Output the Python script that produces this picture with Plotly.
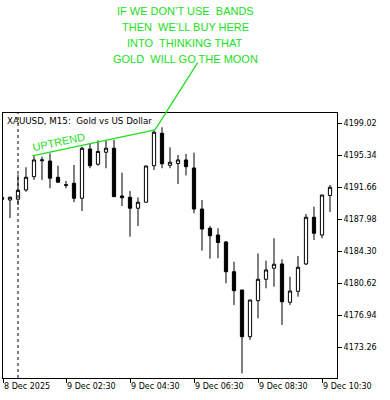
import plotly.graph_objects as go

# ---- data ----
bar_index = list(range(42))
opens = [4190.49, 4190.20, 4190.29, 4191.35, 4192.88, 4194.71, 4194.68, 4192.81, 4191.95, 4192.12,
         4190.40, 4196.06, 4194.31, 4195.69, 4196.15, 4190.66, 4190.51, 4189.25, 4189.94, 4194.14,
         4197.87, 4194.19, 4194.40, 4194.80, 4193.88, 4189.16, 4186.95, 4186.17, 4185.37, 4181.95,
         4179.85, 4174.48, 4178.62, 4181.08, 4182.35, 4182.84, 4178.44, 4179.70, 4182.84, 4188.21,
         4186.17, 4190.72]
highs = [4190.54, 4190.60, 4193.13, 4193.96, 4195.29, 4195.18, 4195.57, 4194.14, 4192.38, 4194.22,
         4196.33, 4196.72, 4197.04, 4197.10, 4197.10, 4193.34, 4191.23, 4190.51, 4194.11, 4198.25,
         4198.56, 4196.26, 4195.37, 4195.49, 4195.64, 4190.20, 4187.21, 4186.95, 4185.48, 4183.10,
         4179.85, 4178.70, 4184.05, 4183.22, 4185.80, 4183.38, 4181.38, 4183.76, 4188.59, 4189.43,
         4190.77, 4191.92]
lows = [4190.20, 4188.13, 4189.62, 4191.15, 4192.50, 4192.50, 4191.55, 4192.21, 4191.55, 4189.94,
        4188.93, 4193.85, 4194.14, 4193.85, 4190.58, 4189.51, 4185.98, 4187.21, 4189.94, 4193.65,
        4193.85, 4193.85, 4192.04, 4193.02, 4188.67, 4184.37, 4183.45, 4183.50, 4180.62, 4178.12,
        4170.27, 4174.10, 4176.60, 4180.05, 4180.23, 4175.82, 4178.12, 4179.08, 4182.72, 4185.60,
        4185.80, 4188.82]
closes = [4190.26, 4190.51, 4191.32, 4192.81, 4194.80, 4194.80, 4192.70, 4192.24, 4191.90, 4190.40,
          4196.15, 4194.14, 4195.78, 4196.15, 4190.58, 4190.46, 4189.25, 4189.94, 4194.11, 4197.99,
          4194.36, 4194.54, 4194.80, 4194.03, 4189.16, 4186.86, 4186.09, 4185.31, 4181.95, 4179.77,
          4174.48, 4178.70, 4181.08, 4182.15, 4182.81, 4178.50, 4179.73, 4182.46, 4188.21, 4186.37,
          4190.77, 4191.66]

price_ticks = [4173.26, 4176.94, 4180.62, 4184.30, 4187.98, 4191.66, 4195.34, 4199.02]
time_tick_pos = [0.13, 8, 16, 24, 32, 40]
time_tick_text = ["8 Dec 2025", "9 Dec 02:30", "9 Dec 04:30", "9 Dec 06:30", "9 Dec 08:30", "9 Dec 10:30"]

X_RANGE = [0.125, 41.875]
Y_RANGE = [4169.73, 4200.20]

separator_bar = 2
trend_start = (3.8, 4195.26)
trend_end = (19.125, 4198.25)
callout_point = (24.46, 4205.99)

title_text = "XAUUSD, M15:  Gold vs US Dollar"
callout_lines = ["IF WE DON\u2019T USE  BANDS", "THEN  WE\u2019LL BUY HERE",
                 "INTO  THINKING THAT", "GOLD  WILL GO THE MOON"]
trend_label = "UPTREND"

GREEN = "#22dd22"
FONT = "DejaVu Sans"


def to_paper(x, y):
    return ((x - X_RANGE[0]) / (X_RANGE[1] - X_RANGE[0]),
            (y - Y_RANGE[0]) / (Y_RANGE[1] - Y_RANGE[0]))


fig = go.Figure(go.Candlestick(
    x=bar_index, open=opens, high=highs, low=lows, close=closes,
    increasing=dict(line=dict(color="black", width=1), fillcolor="white"),
    decreasing=dict(line=dict(color="black", width=1), fillcolor="black"),
    whiskerwidth=0, showlegend=False, hoverinfo="skip",
))

fig.update_layout(
    width=390, height=400,
    margin=dict(l=3, r=53, t=113, b=22, pad=0),
    paper_bgcolor="white", plot_bgcolor="white",
    boxgap=0.42,
    font=dict(family=FONT, size=8, color="black"),
    xaxis=dict(range=X_RANGE, tickvals=time_tick_pos, ticktext=time_tick_text,
               ticks="outside", ticklen=4, tickcolor="black", tickwidth=1,
               ticklabelposition="outside right",
               showgrid=False, zeroline=False, showline=True, mirror=True,
               linecolor="black", linewidth=1, rangeslider=dict(visible=False),
               tickfont=dict(family=FONT, size=8, color="black")),
    yaxis=dict(range=Y_RANGE, side="right", tickvals=price_ticks,
               ticktext=[f"{v:.2f}" for v in price_ticks],
               ticks="outside", ticklen=4, tickcolor="black", tickwidth=1,
               showgrid=False, zeroline=False, showline=True, mirror=True,
               linecolor="black", linewidth=1,
               tickfont=dict(family=FONT, size=8, color="black")),
)

shapes = [dict(type="line", xref="x", yref="paper", x0=separator_bar, x1=separator_bar,
               y0=0, y1=1, line=dict(color="black", width=1, dash="3px,3px"))]
p0 = to_paper(*trend_start)
p1 = to_paper(*trend_end)
p2 = to_paper(*callout_point)
shapes.append(dict(type="line", xref="paper", yref="paper", x0=p0[0], y0=p0[1], x1=p1[0], y1=p1[1],
                   line=dict(color=GREEN, width=1.3)))
shapes.append(dict(type="line", xref="paper", yref="paper", x0=p1[0], y0=p1[1], x1=p2[0], y1=p2[1],
                   line=dict(color=GREEN, width=1.3)))
fig.update_layout(shapes=shapes)

annotations = [dict(text=title_text, xref="paper", yref="paper", x=0, y=1, xanchor="left",
                    yanchor="top", xshift=2, yshift=-1, showarrow=False,
                    font=dict(family=FONT, size=8.7, color="black"))]
for i, line in enumerate(callout_lines):
    annotations.append(dict(text=line, xref="paper", yref="paper", x=0.545, y=1.385 - i * 0.06,
                            xanchor="center", yanchor="middle", showarrow=False,
                            font=dict(family="Liberation Sans", size=11, color=GREEN)))
lab = to_paper(7.0, 4196.9)
annotations.append(dict(text=trend_label, xref="paper", yref="paper", x=lab[0], y=lab[1],
                        xanchor="center", yanchor="middle", showarrow=False, textangle=-12,
                        font=dict(family="Liberation Sans", size=11, color=GREEN)))
fig.update_layout(annotations=annotations)

fig.write_html("out.html")
